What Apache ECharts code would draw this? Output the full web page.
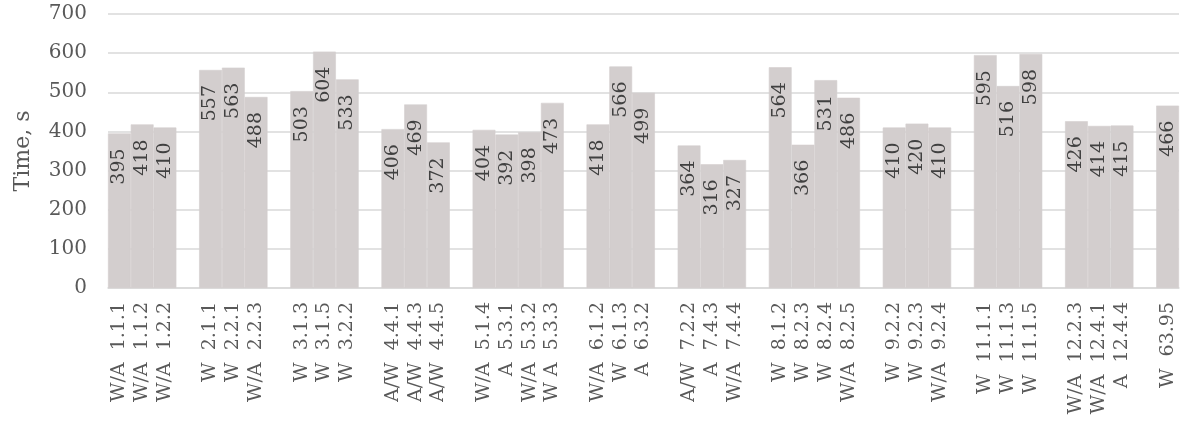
<!DOCTYPE html>
<html>
<head>
<meta charset="utf-8">
<script src="https://cdn.jsdelivr.net/npm/echarts@6/dist/echarts.min.js"></script>
<style>
  html, body { margin: 0; padding: 0; background: #fff; }
  #chart { width: 1186px; height: 430px; }
</style>
</head>
<body>
<div id="chart"></div>
<script>
// one slot per bar, '' / null = empty slot between groups
var categories = [
  'W/A  1.1.1', 'W/A  1.1.2', 'W/A  1.2.2', '',
  'W  2.1.1', 'W  2.2.1', 'W/A  2.2.3', '',
  'W  3.1.3', 'W  3.1.5', 'W  3.2.2', '',
  'A/W  4.4.1', 'A/W  4.4.3', 'A/W  4.4.5', '',
  'W/A  5.1.4', 'A  5.3.1', 'W/A  5.3.2', 'W A  5.3.3', '',
  'W/A  6.1.2', 'W  6.1.3', 'A  6.3.2', '',
  'A/W  7.2.2', 'A  7.4.3', 'W/A  7.4.4', '',
  'W  8.1.2', 'W  8.2.3', 'W  8.2.4', 'W/A  8.2.5', '',
  'W  9.2.2', 'W  9.2.3', 'W/A  9.2.4', '',
  'W  11.1.1', 'W  11.1.3', 'W  11.1.5', '',
  'W/A  12.2.3', 'W/A  12.4.1', 'A  12.4.4', '',
  'W  63.95'
];
var times = [
  395, 418, 410, null,
  557, 563, 488, null,
  503, 604, 533, null,
  406, 469, 372, null,
  404, 392, 398, 473, null,
  418, 566, 499, null,
  364, 316, 327, null,
  564, 366, 531, 486, null,
  410, 420, 410, null,
  595, 516, 598, null,
  426, 414, 415, null,
  466
];
var yTicks = [0, 700, 100]; // min, max, step

var font = 'DejaVu Serif';
var chart = echarts.init(document.getElementById('chart'), null, { renderer: 'canvas' });

chart.setOption({
  animation: false,
  grid: { left: 108, right: 7, top: 14, bottom: 142, containLabel: false, outerBoundsMode: 'none' },
  xAxis: {
    type: 'category',
    data: categories,
    axisTick: { show: false },
    axisLine: { lineStyle: { color: '#d9d9d9', width: 1.5 } },
    axisLabel: {
      interval: 0,
      rotate: 90,
      margin: 14,
      color: '#595959',
      fontFamily: font,
      fontSize: 19
    }
  },
  yAxis: {
    type: 'value',
    min: yTicks[0],
    max: yTicks[1],
    interval: yTicks[2],
    name: 'Time, s',
    nameLocation: 'middle',
    nameGap: 74,
    nameTextStyle: { color: '#595959', fontFamily: font, fontSize: 22 },
    axisLine: { show: false },
    axisTick: { show: false },
    axisLabel: { margin: 21, color: '#595959', fontFamily: font, fontSize: 20 },
    splitLine: { lineStyle: { color: '#d9d9d9', width: 1.5 } }
  },
  series: [{
    type: 'bar',
    data: times,
    barCategoryGap: '0%',
    // thin border in the fill colour hides the seams between touching bars
    itemStyle: { color: '#d3cece', borderColor: '#d3cece', borderWidth: 0.6 },
    label: {
      show: true,
      position: 'insideTop',
      rotate: 90,
      align: 'right',
      verticalAlign: 'middle',
      distance: 15,
      color: '#404040',
      fontFamily: font,
      fontSize: 19
    }
  }]
});
</script>
</body>
</html>
